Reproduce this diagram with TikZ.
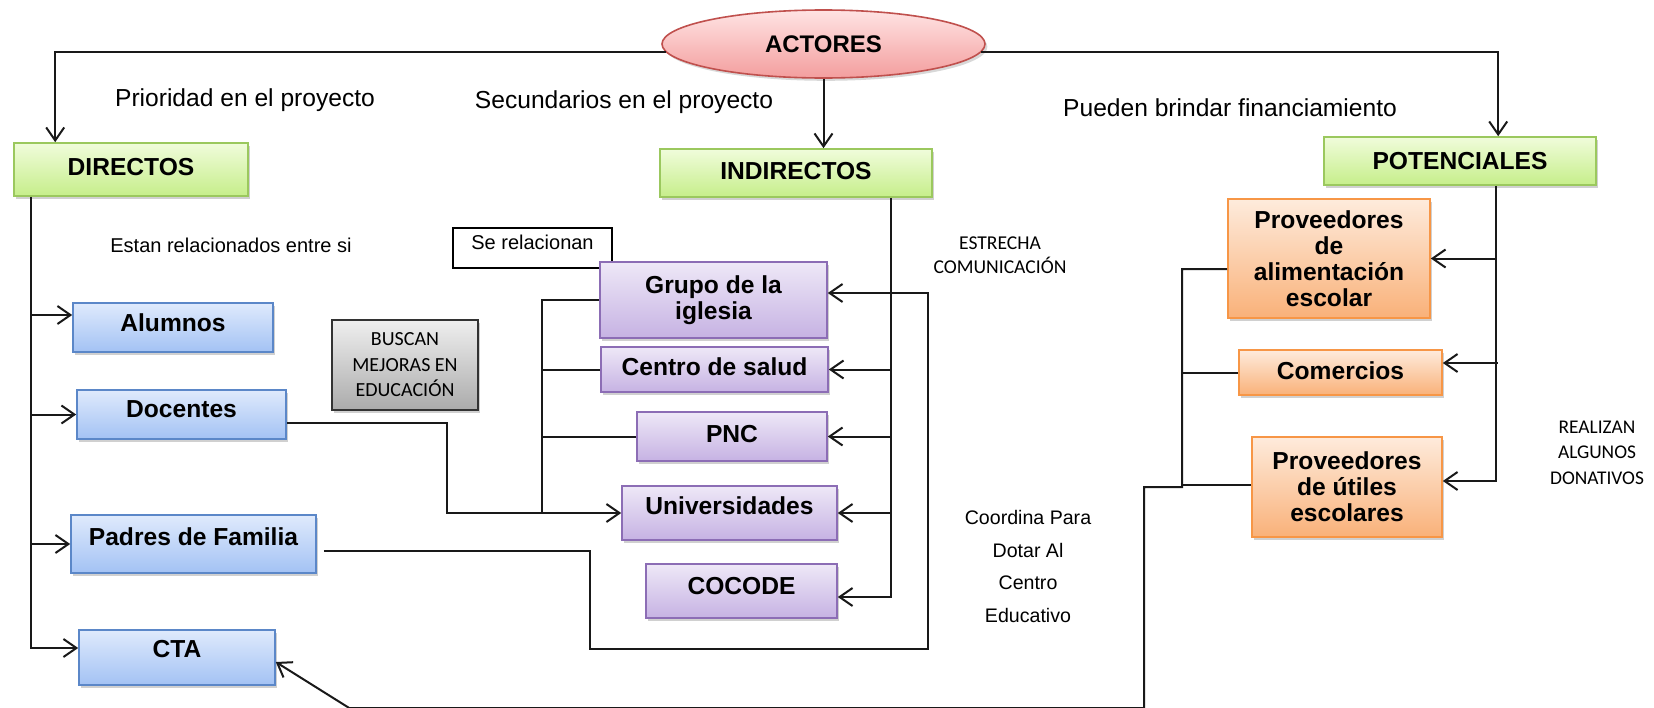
\documentclass[tikz,border=0pt]{standalone}
\usepackage{fontspec}
\setmainfont{Liberation Sans}
\newfontfamily\calibfont{Carlito}
\usepackage{tikz}
\usetikzlibrary{shapes,arrows,positioning,calc,shadows,arrows.meta}

\definecolor{pinktop}{HTML}{FFE3E3}
\definecolor{pinkbot}{HTML}{F39E9E}
\definecolor{pinkline}{HTML}{C0504D}
\definecolor{greentop}{HTML}{F0FCDB}
\definecolor{greenbot}{HTML}{C6EE8A}
\definecolor{greenline}{HTML}{9BC85E}
\definecolor{bluetop}{HTML}{DFEAFC}
\definecolor{bluebot}{HTML}{A3C2F4}
\definecolor{blueline}{HTML}{5B87C8}
\definecolor{purpletop}{HTML}{EEE8F7}
\definecolor{purplebot}{HTML}{C6B2E3}
\definecolor{purpleline}{HTML}{8C6DB5}
\definecolor{orangetop}{HTML}{FEEBDC}
\definecolor{orangebot}{HTML}{F9B179}
\definecolor{orangeline}{HTML}{F79646}
\definecolor{graytop}{HTML}{EFEFEF}
\definecolor{graybot}{HTML}{ABABAB}

\begin{document}
\begin{tikzpicture}[x=0.5pt, y=-0.5pt, thick]
    % Styles
    \tikzstyle{boxbase} = [draw, rectangle, align=center, inner sep=1pt, font=\fontsize{12.3}{13}\selectfont\bfseries, drop shadow={shadow xshift=1.2pt, shadow yshift=-1.4pt, fill=black!60, opacity=0.3}]
    \tikzstyle{level box} = [boxbase, draw=greenline, top color=greentop, bottom color=greenbot]
    \tikzstyle{direct box} = [boxbase, draw=blueline, top color=bluetop, bottom color=bluebot]
    \tikzstyle{indirect box} = [boxbase, draw=purpleline, top color=purpletop, bottom color=purplebot]
    \tikzstyle{potential box} = [boxbase, draw=orangeline, top color=orangetop, bottom color=orangebot]
    \tikzstyle{tshift} = [text height=9pt, text depth=#1]
    \tikzstyle{note} = [align=center, font=\fontsize{12.3}{14}\selectfont]
    \tikzstyle{small note} = [align=center, font=\fontsize{10}{12}\selectfont]
    \tikzstyle{caps note} = [align=center, font=\calibfont\fontsize{9.7}{12.75}\selectfont]
    \tikzstyle{link} = [line width=1pt, black!90]
    \tikzstyle{arr} = [link, -{Straight Barb[length=6.5pt,width=9pt]}]

    \useasboundingbox[fill=white] (0,0) rectangle (1654,707);

    % Nodes
    \node [ellipse, draw=pinkline, top color=pinktop, bottom color=pinkbot, minimum width=161.5pt, minimum height=34pt, inner sep=0pt, font=\fontsize{12}{13}\selectfont\bfseries, drop shadow={shadow xshift=1.2pt, shadow yshift=-1.4pt, fill=black!60, opacity=0.25}] (ACTORES) at (823.5,44) {ACTORES};
    \node [level box, tshift=3.4pt, minimum width=117pt, minimum height=26.5pt] (DIRECTOS) at (131,169.5) {DIRECTOS};
    \node [level box, tshift=2.4pt, minimum width=136pt, minimum height=24pt] (INDIRECTOS) at (796,173) {INDIRECTOS};
    \node [level box, tshift=0.4pt, minimum width=136pt, minimum height=24pt] (POTENCIALES) at (1460,161) {POTENCIALES};

    % Directos
    \node [direct box, tshift=4.9pt, minimum width=100pt, minimum height=24.5pt] (Alumnos) at (173,327.5) {Alumnos};
    \node [direct box, tshift=5.9pt, minimum width=104.5pt, minimum height=24.5pt] (Docentes) at (181.5,414.5) {Docentes};
    \node [direct box, tshift=7.4pt, minimum width=122.5pt, minimum height=29pt] (Padres) at (193.5,544) {Padres de Familia};
    \node [direct box, tshift=8.9pt, minimum width=98pt, minimum height=27.5pt] (CTA) at (177,657.5) {CTA};

    % Indirectos
    \node [draw, rectangle, fill=white, minimum width=79.5pt, minimum height=20pt, inner sep=1pt, font=\fontsize{10}{12}\selectfont, text height=7pt, text depth=6pt] (SeRelacionan) at (532.5,248) {Se relacionan};
    \node [indirect box, minimum width=113.5pt, minimum height=38pt] (Grupo) at (713.5,300) {Grupo de la\\iglesia};
    \node [indirect box, tshift=2.9pt, minimum width=113.5pt, minimum height=22.5pt] (Centro) at (714.5,369.5) {Centro de salud};
    \node [indirect box, tshift=2.9pt, minimum width=95pt, minimum height=24.5pt] (PNC) at (732,436.5) {PNC};
    \node [indirect box, tshift=7.4pt, minimum width=107.5pt, minimum height=27pt] (Universidades) at (729.5,513) {Universidades};
    \node [indirect box, tshift=5.4pt, minimum width=95.5pt, minimum height=27pt] (COCODE) at (741.5,591) {COCODE};
    \node [draw=black!80, rectangle, top color=graytop, bottom color=graybot, minimum width=73pt, minimum height=45pt, inner sep=1pt, align=center, font=\calibfont\fontsize{10}{12.75}\selectfont, drop shadow={shadow xshift=1.2pt, shadow yshift=-1.4pt, fill=black!60, opacity=0.3}] (Buscan) at (405,365) {BUSCAN\\MEJORAS EN\\EDUCACIÓN};

    % Potenciales
    \node [potential box, minimum width=101pt, minimum height=59.5pt] (Alimentacion) at (1329,258.5) {Proveedores\\de\\alimentación\\escolar};
    \node [potential box, tshift=2.2pt, minimum width=101.5pt, minimum height=22.5pt] (Comercios) at (1340.5,372.5) {Comercios};
    \node [potential box, minimum width=95pt, minimum height=50pt] (Utiles) at (1347,487) {Proveedores\\de útiles\\escolares};

    % Texts
    \node [note] (Prioridad) at (245,100) {Prioridad en el proyecto};
    \node [note] (Secundarios) at (624,102) {Secundarios en el proyecto};
    \node [note] (Pueden) at (1230,108) {Pueden brindar financiamiento};
    \node [small note] (Estan) at (231,245) {Estan relacionados entre si};
    \node [caps note, font=\calibfont\fontsize{9.8}{12}\selectfont] (Estrecha) at (1000,255) {ESTRECHA\\COMUNICACIÓN};
    \node [small note, font=\fontsize{9.8}{16.2}\selectfont] (Coordina) at (1028,566.5) {Coordina Para\\Dotar Al\\Centro\\Educativo};
    \node [caps note] (Realizan) at (1597,452.5) {REALIZAN\\ALGUNOS\\DONATIVOS};

    % Connections
    \draw [arr] (ACTORES.183) -| ($(DIRECTOS.north west)+(42,0)$);
    \draw [arr] (ACTORES.south) -- (ACTORES.south |- INDIRECTOS.north);
    \draw [arr] (ACTORES.357) -| ($(POTENCIALES.north west)+(175,0)$);

    \coordinate (dtrunk) at ($(DIRECTOS.south west)+(18,0)$);
    \draw [arr] (dtrunk) |- ($(CTA.west)+(0,-9.5)$);
    \draw [arr] ($(Alumnos.west)+(-41,-12.5)$) -- ($(Alumnos.west)+(0,-12.5)$);
    \draw [arr] (dtrunk |- Docentes.west) -- (Docentes.west);
    \draw [arr] (dtrunk |- Padres.west) -- (Padres.west);
    \draw [arr] ($(Docentes.east)+(0,8)$) -- ++(160,0) |- (Universidades.west);

    \draw [link] (Grupo.west) -- ++(-57,0) coordinate (ibr) -- (ibr |- Universidades.west);
    \draw [link] (Centro.west) -- (Centro.west -| ibr);
    \draw [link] (PNC.west) -- (PNC.west -| ibr);

    \coordinate (itrunk) at ($(INDIRECTOS.south east)+(-42,0)$);
    \draw [arr] (itrunk) |- ($(COCODE.east)+(0,6)$);
    \draw [arr] (itrunk |- Centro.east) -- (Centro.east);
    \draw [arr] (itrunk |- PNC.east) -- (PNC.east);
    \draw [arr] (itrunk |- Universidades.east) -- (Universidades.east);
    \draw [arr] ($(Padres.east)+(7,7)$) -| ++(266,98) -| ($(Grupo.east)+(100,-7)$) -- ($(Grupo.east)+(0,-7)$);

    \coordinate (ptrunk) at ($(POTENCIALES.south west)+(173,0)$);
    \draw [arr] (ptrunk) |- ($(Utiles.east)+(0,-6)$);
    \draw [arr] (ptrunk |- Alimentacion.east) -- (Alimentacion.east);
    \draw [arr] ($(Comercios.east)+(55,-9.5)$) -- ($(Comercios.east)+(0,-9.5)$);
    \draw [arr] ($(Alimentacion.west)+(0,10.5)$) -- ++(-45,0) coordinate (pbr) -- ++(0,218) -- ++(-38,0) -- ++(0,221) -- ++(-795,0) -- ($(CTA.east)+(0,4.5)$);
    \draw [link] (Comercios.west) -- (Comercios.west -| pbr);
    \draw [link] ($(Utiles.west)+(0,-2)$) -- ++(-69,0);
\end{tikzpicture}
\end{document}
